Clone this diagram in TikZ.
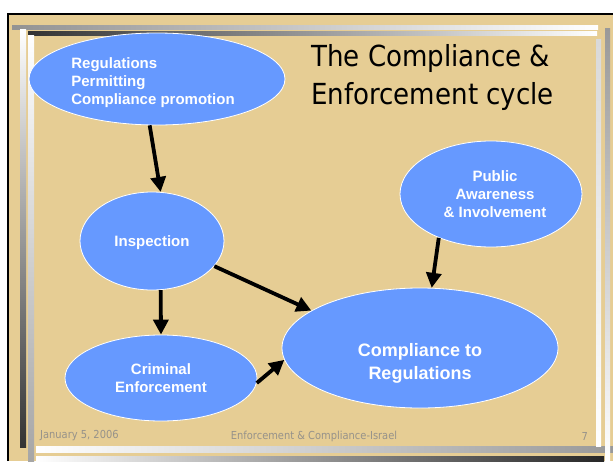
\documentclass[tikz,border=0pt]{standalone}
\usepackage{fontspec}
\setmainfont{Liberation Sans}
\newfontfamily\slidefont[FakeStretch=0.9]{DejaVu Sans}
\usepackage{tikz}
\usetikzlibrary{arrows.meta, positioning, calc, shapes.geometric}

\definecolor{parchment}{RGB}{230,205,148}
\definecolor{bubblefill}{RGB}{102,153,255}
\definecolor{footgray}{RGB}{150,146,138}

\begin{document}
\begin{tikzpicture}[
  x=1pt, y=-1pt,
  bubble/.style = {ellipse, draw=white, line width=0.8pt, fill=bubblefill, inner sep=0pt},
  bubbletext/.style = {text=white, font=\bfseries\fontsize{15}{18}\selectfont, align=center, inner sep=0pt},
  arrow/.style = {line width=3.8pt, -{Triangle[length=15pt, width=15pt]}},
  footer/.style = {font=\slidefont\fontsize{11}{13}\selectfont, text=footgray, inner sep=0pt}
]

  \useasboundingbox (0,0) rectangle (613,461);

  % Slide background
  \fill[white] (0,0) rectangle (613,461);
  \fill[parchment] (9,15) rectangle (613,461);
  \draw[line width=2pt] (8,461) -- (8,14) -- (613,14);

  % Frame bars
  \shade[left color=gray!85, right color=white] (12,25) rectangle (598,29);
  \shade[left color=black!80, right color=white] (28,31) rectangle (597,35);
  \shade[top color=white, bottom color=black!80] (20,29) rectangle (26,447);
  \shade[top color=white, bottom color=gray!70] (28,35) rectangle (34,461);
  \shade[left color=white, right color=gray!80] (36,446) rectangle (613,452);
  \shade[left color=white, right color=black!85] (36,456) rectangle (604,461);
  \shade[top color=gray!80, bottom color=white] (605,28) rectangle (610,461);
  \shade[top color=gray!30, bottom color=white] (596,39) rectangle (601,446);

  % Title
  \node[anchor=west, align=left, inner sep=0pt, font=\slidefont\fontsize{29}{38}\selectfont] (title) at (311,77)
    {The Compliance \&\\Enforcement cycle};

  % Cycle
  \node[bubble, minimum width=256pt, minimum height=92pt,
        label={[bubbletext, align=left, xshift=-4pt, yshift=-4pt]center:{Regulations\\Permitting\\Compliance promotion}}]
    (reg) at (157,79) {};
  \node[bubble, minimum width=144pt, minimum height=98pt,
        label={[bubbletext, yshift=-2pt]center:Inspection}] (insp) at (152,241) {};
  \node[bubble, minimum width=192pt, minimum height=86pt,
        label={[bubbletext]center:{Criminal\\Enforcement}}] (crim) at (161,378) {};
  \node[bubble, minimum width=276pt, minimum height=120pt,
        label={[bubbletext, font=\bfseries\fontsize{18}{23}\selectfont, yshift=-15pt]center:{Compliance to\\Regulations}}]
    (comp) at (420,348) {};
  \node[bubble, minimum width=182pt, minimum height=106pt,
        label={[bubbletext, xshift=4pt]center:{Public\\Awareness\\\& Involvement}}] (pub) at (491,194) {};

  \draw[arrow] (reg.261) -- (insp.80);
  \draw[arrow] (insp.280) -- (crim.90);
  \draw[arrow] (insp.-22) -- (comp.161);
  \draw[arrow] (crim.-3) -- (comp.185);
  \draw[arrow] (pub.220) -- (comp.79);

  % Footer
  \node[footer, anchor=west] (date) at (40,436) {January 5, 2006};
  \node[footer] (event) at (314,436) {Enforcement \& Compliance-Israel};
  \node[footer, anchor=east] (page) at (588,436) {7};

\end{tikzpicture}
\end{document}
